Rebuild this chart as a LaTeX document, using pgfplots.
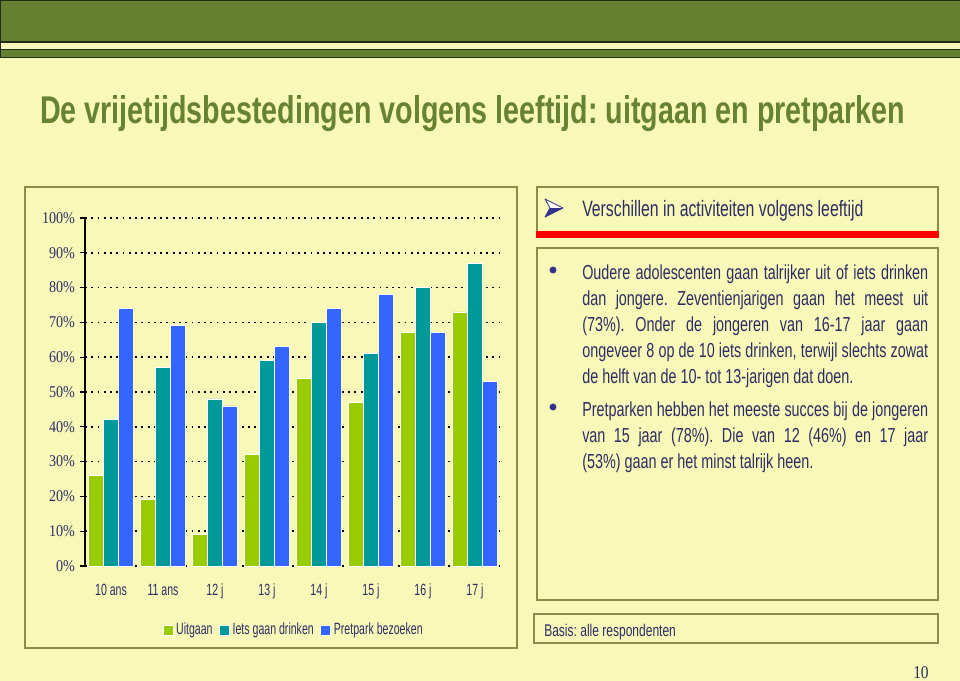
\documentclass[border=0pt]{standalone}
\usepackage{fontspec}
\setmainfont{Liberation Sans}[FakeStretch=0.71]
\newfontfamily\tickfont{Liberation Serif}[FakeStretch=0.86]
\newfontfamily\lblfont{Liberation Sans}[FakeStretch=0.65]
\usepackage{graphicx}
\usepackage{pgfplots}
\pgfplotsset{compat=1.18}
\definecolor{cream}{RGB}{248,248,184}
\definecolor{bandgreen}{RGB}{102,128,50}
\definecolor{darkline}{RGB}{35,45,20}
\definecolor{titlegreen}{RGB}{102,130,50}
\definecolor{olive}{RGB}{140,140,70}
\definecolor{navy}{RGB}{45,45,100}
\definecolor{bnavy}{RGB}{50,50,140}
\definecolor{cA}{RGB}{153,204,0}
\definecolor{cB}{RGB}{0,153,153}
\definecolor{cC}{RGB}{51,102,255}
\frenchspacing
\newcommand\jl[2]{\node[anchor=base west,inner sep=0,text=navy,font=\fontsize{15.2bp}{18bp}\selectfont] at (582,#1) {\makebox[259.5bp][s]{#2}};}
\newcommand\nl[2]{\node[anchor=base west,inner sep=0,text=navy,font=\fontsize{15.2bp}{18bp}\selectfont] at (582,#1) {#2};}
\begin{document}
\begin{tikzpicture}
\begin{scope}[x=0.75bp,y=-0.75bp]
\fill[cream] (0,0) rectangle (960,681);
\useasboundingbox (0,0) rectangle (960,681);
\fill[bandgreen] (0,0) rectangle (960,42);
\fill[bandgreen] (0,50) rectangle (960,57.5);
\draw[darkline, line width=1.4bp] (0,42) -- (960,42);
\draw[darkline, line width=1.4bp] (0,49.5) -- (960,49.5);
\draw[darkline, line width=1.4bp] (0,57.5) -- (960,57.5);
\draw[darkline, line width=1bp] (0.7,57) -- (0.7,0.7) -- (960,0.7);
\node[anchor=base west,inner sep=0,text=titlegreen] at (40,123)
 {\resizebox{648.75bp}{\height}{\fontsize{29bp}{35bp}\selectfont\bfseries De vrijetijdsbestedingen volgens leeftijd: uitgaan en pretparken}};
% boxes
\draw[olive, line width=1.2bp] (25,187) rectangle (517,648);
\draw[olive, line width=1.2bp] (537,187) rectangle (938,237);
\fill[red] (536,230.5) rectangle (938.6,238);
\draw[olive, line width=1.2bp] (537,248) rectangle (938,600);
\draw[olive, line width=1.2bp] (534,614) rectangle (938,643);
% arrow bullet
\fill[white] (545,199) -- (563,208) -- (550,208) -- cycle;
\fill[bnavy] (550,208) -- (563,208) -- (545,217) -- cycle;
\draw[bnavy, line width=0.6bp, line join=round] (545,199) -- (563,208) -- (545,217) -- (550,208) -- cycle;
\node[anchor=base west,inner sep=0,text=navy,font=\fontsize{16.7bp}{19bp}\selectfont] at (582,216) {Verschillen in activiteiten volgens leeftijd};
% bullets
\fill[bnavy] (553,270) circle[radius=2.6bp];
\fill[bnavy] (553,407) circle[radius=2.6bp];
\jl{279}{Oudere adolescenten gaan talrijker uit of iets drinken}
\jl{305}{dan jongere. Zeventienjarigen gaan het meest uit}
\jl{331}{(73\%). Onder de jongeren van 16-17 jaar gaan}
\jl{357}{ongeveer 8 op de 10 iets drinken, terwijl slechts zowat}
\nl{383}{de helft van de 10- tot 13-jarigen dat doen.}
\jl{416}{Pretparken hebben het meeste succes bij de jongeren}
\jl{442}{van 15 jaar (78\%). Die van 12 (46\%) en 17 jaar}
\nl{468}{(53\%) gaan er het minst talrijk heen.}
\node[anchor=base west,inner sep=0,text=navy,font=\fontsize{12.7bp}{15bp}\selectfont] at (544,636) {Basis: alle respondenten};
\node[anchor=base east,inner sep=0,text=navy,font=\tickfont\fontsize{13.5bp}{15bp}\selectfont] at (929,678) {10};
\end{scope}
\begin{axis}[
  at={(63.75bp,-424.5bp)}, anchor=south west,
  scale only axis, width=312bp, height=261bp,
  xmin=-0.5, xmax=7.5, ymin=0, ymax=100,
  ybar=0pt, bar width=11.25bp,
  axis x line*=bottom, axis y line*=left,
  x axis line style={draw=none},
  y axis line style={black, line width=1.1bp, -},
  xtick={0,...,7},
  xticklabels={10 ans, 11 ans, 12 j, 13 j, 14 j, 15 j, 16 j, 17 j},
  xtick style={draw=none},
  ytick={0,10,...,100},
  yticklabel={\pgfmathprintnumber{\tick}\%},
  /pgf/number format/assume math mode=true,
  tick align=outside, major tick length=4bp,
  ytick style={black, line width=0.8bp},
  ymajorgrids,
  major grid style={black, line width=1.1bp, dash pattern=on 1.4bp off 3.3bp},
  yticklabel style={font=\tickfont\fontsize{12.3bp}{14bp}\selectfont, text=navy},
  xticklabel style={font=\lblfont\fontsize{12.2bp}{14bp}\selectfont, text=navy, anchor=base, yshift=-18bp},
  legend style={at={(0.5024,-0.184)}, anchor=center, draw=none, fill=none,
    font=\lblfont\fontsize{12.2bp}{14bp}\selectfont, text=navy,
    /tikz/every even column/.append style={column sep=3bp}},
  legend columns=3,
  legend image code/.code={\fill[#1] (0bp,-3.75bp) rectangle (7.5bp,3.75bp);},
]
\addplot[fill=cA, draw=white, line width=0.6bp] coordinates {(0,26) (1,19) (2,9) (3,32) (4,54) (5,47) (6,67) (7,73)};
\addplot[fill=cB, draw=white, line width=0.6bp] coordinates {(0,42) (1,57) (2,48) (3,59) (4,70) (5,61) (6,80) (7,87)};
\addplot[fill=cC, draw=white, line width=0.6bp] coordinates {(0,74) (1,69) (2,46) (3,63) (4,74) (5,78) (6,67) (7,53)};
\legend{Uitgaan, Iets gaan drinken, Pretpark bezoeken}
\end{axis}
\end{tikzpicture}
\end{document}
